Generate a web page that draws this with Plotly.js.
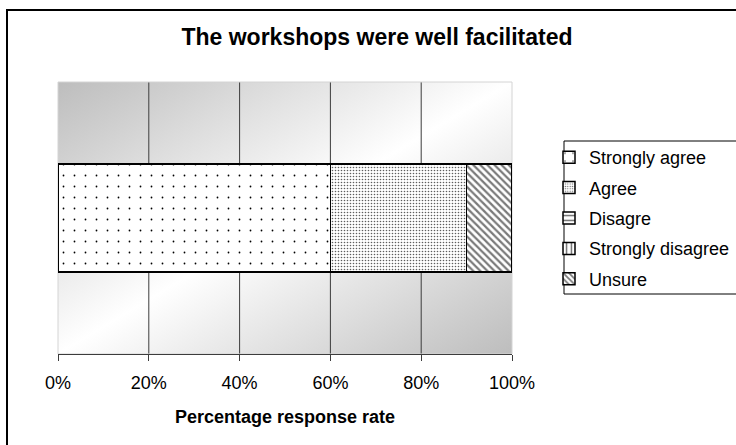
<!DOCTYPE html>
<html>
<head>
<meta charset="utf-8">
<script src="https://cdn.plot.ly/plotly-3.0.1.min.js"></script>
<style>
  html, body { margin: 0; padding: 0; background: #ffffff; }
  #chart { width: 736px; height: 445px; }
</style>
</head>
<body>
<div id="chart"></div>
<script>
// Survey answer shares for one statement (percent of responses)
const categories = ['Workshops facilitated'];
const seriesNames = ['Strongly agree', 'Agree', 'Disagre', 'Strongly disagree', 'Unsure'];
const stronglyAgree = [60];
const agree = [30];
const disagree = [0];
const stronglyDisagree = [0];
const unsure = [10];
const tickValues = [0, 20, 40, 60, 80, 100];
const tickLabels = ['0%', '20%', '40%', '60%', '80%', '100%'];
const gridValues = [20, 40, 60, 80];

const FONT = 'Liberation Sans, Arial, Helvetica, sans-serif';
const W = 736, H = 445;
const M = { l: 58, r: 224, t: 82, b: 91 };
const PW = W - M.l - M.r, PH = H - M.t - M.b;
// pixel -> paper coordinate helpers
const px = p => (p - M.l) / PW;
const py = p => (H - M.b - p) / PH;

// Diagonal grey-white-grey fill behind the plot area
function gradientImage() {
  const c = document.createElement('canvas');
  c.width = PW; c.height = PH;
  const ctx = c.getContext('2d');
  ctx.scale(PW, PH);
  const g = ctx.createLinearGradient(0, 0, 1, 1);
  g.addColorStop(0, '#bdbdbd');
  g.addColorStop(0.5, '#ffffff');
  g.addColorStop(1, '#bdbdbd');
  ctx.fillStyle = g;
  ctx.fillRect(0, 0, 1, 1);
  return c.toDataURL('image/png');
}

const seriesValues = [stronglyAgree, agree, disagree, stronglyDisagree, unsure];
const patterns = [
  { shape: '.', size: 11, solidity: 0.02, fgcolor: '#000000', bgcolor: '#ffffff' },
  { shape: '.', size: 3, solidity: 0.22, fgcolor: '#5e5e5e', bgcolor: '#ffffff' },
  { shape: '-', size: 6, solidity: 0.3, fgcolor: '#6e6e6e', bgcolor: '#ffffff' },
  { shape: '|', size: 6, solidity: 0.3, fgcolor: '#6e6e6e', bgcolor: '#ffffff' },
  { shape: '\\', size: 5, solidity: 0.45, fgcolor: '#7a7a7a', bgcolor: '#ffffff' }
];

const traces = seriesNames.map((name, i) => ({
  type: 'bar',
  orientation: 'h',
  name: name,
  legendgroup: 'g' + i,
  y: categories,
  x: seriesValues[i],
  width: 0.397,
  marker: {
    color: '#ffffff',
    pattern: patterns[i],
    line: { color: '#000000', width: 1.5 }
  },
  hoverinfo: 'name+x'
}));

const shapes = [];
// vertical gridlines
gridValues.forEach(v => shapes.push({
  type: 'line', xref: 'x', yref: 'paper', x0: v, x1: v, y0: 0, y1: 1,
  line: { color: '#3c3c3c', width: 1 }, layer: 'below'
}));
// light plot-area border
shapes.push({
  type: 'rect', xref: 'paper', yref: 'paper', x0: 0, x1: 1, y0: 0, y1: 1,
  line: { color: '#d4d4d4', width: 1 }, layer: 'below'
});
// outer chart frame (left and top edges)
shapes.push({
  type: 'line', xref: 'paper', yref: 'paper', x0: px(7), x1: px(7), y0: py(460), y1: py(10),
  line: { color: '#000000', width: 2 }
});
shapes.push({
  type: 'line', xref: 'paper', yref: 'paper', x0: px(6), x1: px(760), y0: py(10), y1: py(10),
  line: { color: '#000000', width: 2 }
});
// legend frame
shapes.push({
  type: 'rect', xref: 'paper', yref: 'paper', x0: px(564), x1: px(760), y0: py(294), y1: py(141),
  line: { color: '#000000', width: 1 }
});

const layout = {
  width: W, height: H,
  margin: { l: M.l, r: M.r, t: M.t, b: M.b, pad: 0, autoexpand: false },
  paper_bgcolor: '#ffffff',
  plot_bgcolor: 'rgba(0,0,0,0)',
  barmode: 'stack',
  font: { family: FONT, size: 18, color: '#000000' },
  title: {
    text: '<b>The workshops were well facilitated</b>',
    font: { family: FONT, size: 23, color: '#000000' },
    xref: 'paper', x: px(377), xanchor: 'center',
    yref: 'container', y: 1 - 37 / H, yanchor: 'middle'
  },
  xaxis: {
    range: [0, 100],
    tickmode: 'array', tickvals: tickValues, ticktext: tickLabels,
    showgrid: false, zeroline: false,
    showline: true, linecolor: '#3c3c3c', linewidth: 1,
    ticks: 'outside', ticklen: 6, tickcolor: '#3c3c3c', tickwidth: 1,
    tickfont: { family: FONT, size: 18, color: '#000000' },
    ticklabelstandoff: 6,
    title: {
      text: '<b>Percentage response rate</b>',
      font: { family: FONT, size: 18, color: '#000000' },
      standoff: 18
    },
    automargin: false,
    fixedrange: true
  },
  yaxis: {
    range: [-0.5, 0.5],
    showticklabels: false, showgrid: false, zeroline: false, showline: false,
    ticks: '', automargin: false, fixedrange: true
  },
  legend: {
    x: px(549), xanchor: 'left',
    y: py(139), yanchor: 'top',
    traceorder: 'grouped',
    tracegroupgap: 4,
    bgcolor: 'rgba(0,0,0,0)', borderwidth: 0,
    font: { family: FONT, size: 18, color: '#000000' }
  },
  images: [{
    source: gradientImage(),
    xref: 'paper', yref: 'paper', x: 0, y: 1, sizex: 1, sizey: 1,
    xanchor: 'left', yanchor: 'top', sizing: 'stretch', layer: 'below'
  }],
  shapes: shapes,
  showlegend: true
};

Plotly.newPlot('chart', traces, layout, { displayModeBar: false, staticPlot: true });
</script>
</body>
</html>
